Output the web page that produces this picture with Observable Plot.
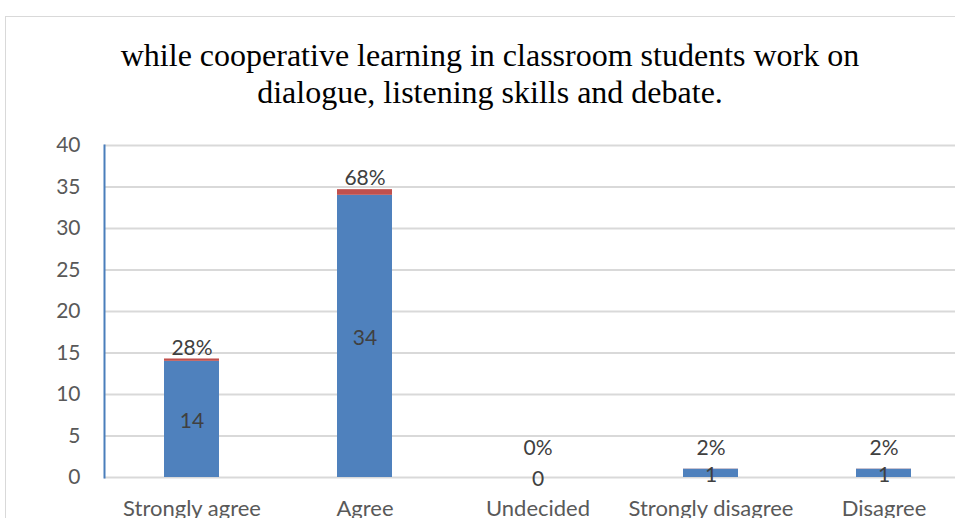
<!DOCTYPE html>
<html>
<head>
<meta charset="utf-8">
<script src="https://cdn.jsdelivr.net/npm/d3@7"></script>
<script src="https://cdn.jsdelivr.net/npm/@observablehq/plot@0.6"></script>
<style>
  html, body { margin: 0; padding: 0; background: #fff; width: 955px; height: 518px; overflow: hidden; }
  #frame { position: absolute; left: 5px; top: 16px; width: 1000px; height: 600px; border: 1.5px solid #d9d9d9; box-sizing: border-box; }
  #title { position: absolute; left: 0; top: 37px; width: 980px; text-align: center; font-family: "Liberation Serif", "Times New Roman", serif; font-size: 32px; line-height: 37px; color: #000; }
  #chart { position: absolute; left: 0; top: 120px; }
</style>
</head>
<body>
<div id="frame"></div>
<div id="title">while cooperative learning in classroom students work on<br>dialogue, listening skills and debate.</div>
<div id="chart"></div>
<script>
const categories = ["Strongly agree", "Agree", "Undecided", "Strongly disagree", "Disagree"];
const counts = [14, 34, 0, 1, 1];
const percents = [0.28, 0.68, 0, 0.02, 0.02];
const percentLabels = ["28%", "68%", "0%", "2%", "2%"];
const yTicks = [0, 5, 10, 15, 20, 25, 30, 35, 40];

const rows = [];
categories.forEach((c, i) => {
  rows.push({category: c, series: "Count", value: counts[i]});
  rows.push({category: c, series: "Percent", value: percents[i]});
});
const countRows = categories.map((c, i) => ({category: c, value: counts[i]}));
const pctRows = categories.map((c, i) => ({category: c, total: counts[i] + percents[i], label: percentLabels[i]}));

const font = "Lato, 'Open Sans', sans-serif";
const chart = Plot.plot({
  width: 955,
  height: 398,
  marginLeft: 104,
  marginRight: 0,
  marginTop: 25,
  marginBottom: 41,
  style: {fontFamily: font, color: "#595959", background: "transparent", overflow: "visible"},
  x: {domain: categories, range: [104, 971], paddingInner: 0.683, paddingOuter: 0.3415, axis: null},
  y: {domain: [0, 40], ticks: yTicks, axis: null, label: null},
  color: {domain: ["Count", "Percent"], range: ["#4f81bd", "#c0504d"]},
  marks: [
    Plot.ruleY(yTicks, {stroke: "#d9d9d9", strokeWidth: 2}),
    Plot.barY(rows, {x: "category", y: "value", fill: "series"}),
    Plot.frame({anchor: "left", stroke: "#4a7ebb", strokeWidth: 2}),
    Plot.axisY({ticks: yTicks, tickSize: 0, tickPadding: 24, fontSize: 21, fill: "#595959", label: null}),
    Plot.text(countRows, {x: "category", y: d => d.value / 2, text: d => String(d.value), fontSize: 21, fill: "#404040", dy: 2}),
    Plot.text(pctRows, {x: "category", y: d => Math.max(d.total, 2.2), text: "label", dy: -11, fontSize: 21, fill: "#404040"}),
    Plot.text(categories, {x: d => d, frameAnchor: "bottom", dy: 38, text: d => d, fontSize: 22, fill: "#595959"})
  ]
});
document.getElementById("chart").appendChild(chart);
</script>
</body>
</html>
